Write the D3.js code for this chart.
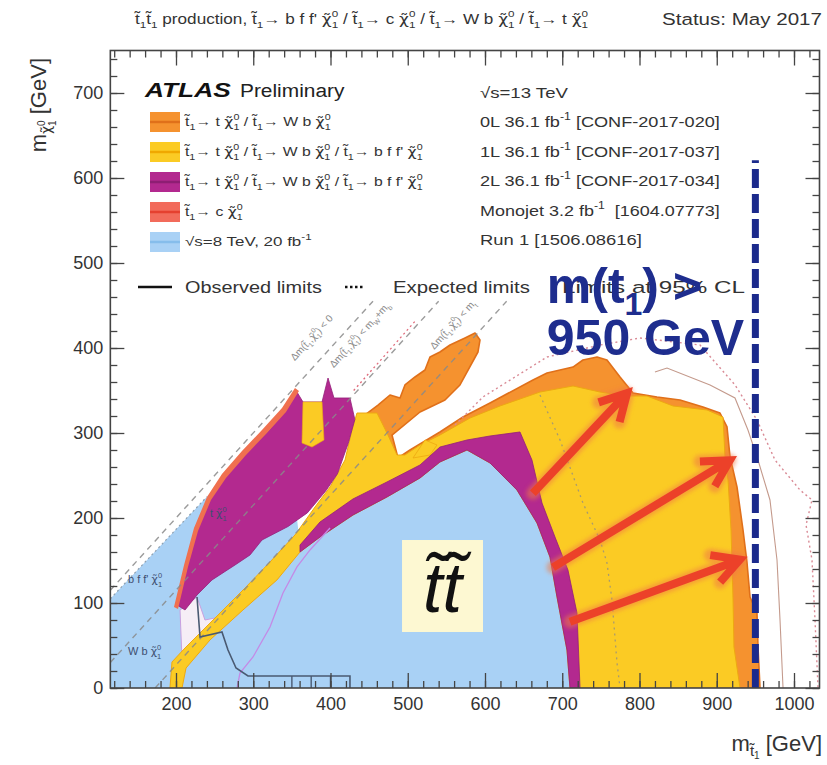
<!DOCTYPE html>
<html><head><meta charset="utf-8">
<script src="https://cdn.jsdelivr.net/npm/d3@7"></script>
<style>
body{margin:0;background:#fff}
svg{display:block}
text{font-family:"Liberation Sans",Arial,Helvetica,sans-serif;white-space:pre}
</style>
</head><body>
<svg id="c" width="827" height="765"></svg>
<script>
// ---------------- DATA ----------------
const xTickValues = [200,300,400,500,600,700,800,900,1000];
const yTickValues = [0,100,200,300,400,500,600,700];

const T1 = "t\u0303_{1}", CHI = "\u03C7\u0303_{1}^{0}";
const titleText = `${T1}${T1} production, ${T1}\u2192 b f f' ${CHI} / ${T1}\u2192 c ${CHI} / ${T1}\u2192 W b ${CHI} / ${T1}\u2192 t ${CHI}`;
const legendLabels = [
  `${T1}\u2192 t ${CHI} / ${T1}\u2192 W b ${CHI}`,
  `${T1}\u2192 t ${CHI} / ${T1}\u2192 W b ${CHI} / ${T1}\u2192 b f f' ${CHI}`,
  `${T1}\u2192 t ${CHI} / ${T1}\u2192 W b ${CHI} / ${T1}\u2192 b f f' ${CHI}`,
  `${T1}\u2192 c ${CHI}`,
  `\u221As=8 TeV, 20 fb^{-1}`
];
const legendRefs = [
  "\u221As=13 TeV",
  "0L 36.1 fb^{-1} [CONF-2017-020]",
  "1L 36.1 fb^{-1} [CONF-2017-037]",
  "2L 36.1 fb^{-1} [CONF-2017-034]",
  "Monojet 3.2 fb^{-1}  [1604.07773]",
  "Run 1 [1506.08616]"
];
const legendFill = ['#F5922F','#FBCB24','#B3298F','#F26B5B','#A9D1F5'];
const legendLine = ['#E0701A','#F0A800','#8E1E73','#E5402F','#86BDEB'];

// exclusion regions [m(stop), m(LSP)] in GeV
const run1Region = [[115,0],[115,105],[240,225],[283,266],[322,292],[348,268],[360.5,168.2],[386.4,195.3],[429.1,222.4],[473.1,242.4],[515.9,262.4],[541.7,283.5],[576.7,291.8],[606.5,296.5],[645.3,301.2],[660.8,268.2],[673.8,217.6],[690.6,177.6],[707.4,138.8],[719.1,88.2],[723,0]];
const lowGap = [[205.2,91.8],[227.2,107.1],[237.5,80],[250.5,82.4],[231.1,56.5],[218.1,38.8],[207.8,32.9]];
const zeroLRegion = [[956,0],[953.4,48.2],[952.1,88.2],[943.1,107.1],[939.2,147.1],[934,185.9],[926.2,236.5],[917.2,271.8],[913.3,307.1],[904.2,323.5],[882.2,330.6],[852.4,338.8],[822.7,342.4],[791.6,347.1],[774.8,365.9],[757.9,385.9],[745,389.4],[726.8,385.9],[713.9,377.6],[680.3,370.6],[662.1,362.4],[606.5,335.3],[571.5,318.8],[541.7,301.2],[502.9,280],[487.4,270.6],[479.6,297.6],[515.9,324.7],[548.2,338.8],[567.6,356.5],[590.9,395.3],[593.5,409.4],[587.1,417.6],[574.1,411.8],[554.7,403.5],[541.7,395.3],[528.8,389.4],[522.3,374.1],[509.4,365.9],[496.4,356.5],[490,341.2],[477,344.7],[461.5,332.9],[444.7,321.2],[435.6,291.8],[464.1,256.5],[593.5,291.8],[748.9,256.5],[813.6,0]];
const oneLRegion = [[192.2,0],[194.8,30.6],[211.7,47.1],[231.1,64.7],[257,88.2],[289.3,117.6],[321.7,148.2],[354,180],[379.9,212.9],[399.4,236.5],[418.8,268.2],[427.8,303.5],[434.3,323.5],[460.2,323.5],[474.4,297.6],[486.1,274.1],[496.4,274.1],[515.9,285.9],[541.7,297.6],[580.6,317.6],[619.4,331.8],[671.2,348.2],[713.9,355.3],[748.9,348.2],[783.8,343.5],[809.7,343.5],[843.4,331.8],[887.4,327.1],[908.1,318.8],[910.7,271.8],[914.6,244.7],[918.5,185.9],[921,107.1],[922.3,48.2],[930.1,0],[710,0],[706.1,44.7],[693.2,107.1],[684.1,154.1],[667.3,194.1],[641.4,232.9],[606.5,264.7],[576.7,280],[541.7,265.9],[515.9,247.1],[473.1,224.7],[429.1,203.5],[386.4,177.6],[360.5,160],[330.7,127.1],[286.7,91.8],[244,56.5],[213,23.5],[207.8,0]];
const oneLIsland = [[506.8,270.6],[522.3,291.8],[537.9,285.9],[528.8,274.1]];
const twoLBand = [[360.5,168.2],[386.4,195.3],[429.1,222.4],[473.1,242.4],[515.9,262.4],[541.7,283.5],[576.7,291.8],[606.5,296.5],[645.3,301.2],[660.8,268.2],[673.8,217.6],[690.6,177.6],[707.4,138.8],[719.1,88.2],[723,0],[710,0],[706.1,44.7],[693.2,107.1],[684.1,154.1],[667.3,194.1],[641.4,232.9],[606.5,264.7],[576.7,280],[541.7,265.9],[515.9,247.1],[473.1,224.7],[429.1,203.5],[386.4,177.6],[360.5,160]];
const twoLWedge = [[201.3,97.6],[214.2,144.7],[227.2,185.9],[244,221.2],[263.4,247.1],[289.3,274.1],[315.2,297.6],[341.1,324.7],[356.6,348.2],[364.4,336.5],[389,336.5],[396.8,364.7],[404.5,341.2],[425.2,341.2],[431.5,316],[423,288],[409,252],[394,232],[370,206],[345,190],[311.3,174.1],[295.8,156.5],[276.4,144.7],[246.6,127.1],[227.2,109.4],[211.7,91.8]];
const oneLStrip = [[363.1,288.2],[364.4,336.5],[389,336.5],[391.6,291.8],[376.1,283.5]];
const monojetStrip = [[197.4,95.3],[210.4,144.7],[223.3,188.2],[240.1,224.7],[259.5,251.8],[285.4,278.8],[311.3,303.5],[337.2,329.4],[354,352.9],[359.2,349.4],[342.4,324.7],[316.5,298.8],[290.6,274.1],[264.7,247.1],[245.3,221.2],[228.5,184.7],[215.5,142.4],[202.6,92.9]];

// contour lines
const diagDm0 = [[115,115],[455,455]];
const diagDmWb = [[115,30],[540,455]];
const diagDmT = [[173,0],[628,455]];
const diagLabelPos = [[376,411.8],[438.2,415.3],[558.6,427.1]];
const diagLabelText = ["\u0394m(t\u0303_{1},\u03C7\u0303_{1}^{0}) < 0","\u0394m(t\u0303_{1},\u03C7\u0303_{1}^{0}) < m_{W}+m_{b}","\u0394m(t\u0303_{1},\u03C7\u0303_{1}^{0}) < m_{t}"];
const pinkDiag = [[430,350],[510,432]];
const zeroLExpected = [[561.2,309.4],[597.4,342.4],[680.3,389.4],[748.9,403.5],[800.6,411.8],[878.3,403.5],[923.6,356.5],[952.1,315.3],[975.4,268.2],[1007.8,232.9],[1023.3,221.2],[1015.6,191.8],[1023.3,150.6],[1027.2,80],[1031.1,0]];
const thinObserved = [[820,371.8],[835.6,376.5],[891.3,356.5],[923.6,341.2],[940.4,303.5],[953.4,268.2],[968.9,221.2],[978,150.6],[981.9,80],[985.8,0]];
const oneLExpected = [[671.2,344.7],[697.1,291.8],[726.8,217.6],[748.9,174.1],[757.9,147.1],[764.4,103.5],[770.9,29.4],[774.8,0]];
const run1Edge = [[115,105],[240,225]];
const darkObserved = [[227.2,107.1],[231.1,60],[259.5,65.9],[267.3,44.7],[277.7,23.5],[293.2,14.1],[425.2,14.1],[425.2,0]];
const combBars = [350,375,400];
const lavenderLine = [[279,0],[282.8,17.6],[299.7,36.5],[321.7,71.8],[338.5,111.8],[356.6,142.4],[373.5,162.4],[399.4,188.2]];
const regionLabels = [{t:"b f f' \u03C7\u0303_{1}^{0}",p:[137.9,123.5]},{t:"W b \u03C7\u0303_{1}^{0}",p:[137.9,38.8]},{t:"t \u03C7\u0303_{1}^{0}",p:[244,201]}];

// annotations
const arrowTails = [[662,229],[688,142],[710,78]];
const arrowTips = [[784,347],[917,268],[930,151]];
const limitLine = [[950,0],[950,621]];
const limitText1Pos = [680,452.9];
const limitText2Pos = [680,391.8];
const boxCorners = [[492.6,174.1],[597.4,65.9]];
const boxTextPos = [545,90];

// ---------------- DRAW ----------------
const svg = d3.select('#c');
const x = d3.scaleLinear().domain([200,1000]).range([176,794]);
const y = d3.scaleLinear().domain([0,700]).range([688,93]);
const xLo = 115, xHi = 1033, yHi = 750;
const X0 = x(xLo), X1 = x(xHi), Y0 = y(0), Y1 = y(yHi);

const defs = svg.append('defs');
defs.append('clipPath').attr('id','plot').append('rect')
  .attr('x',X0).attr('y',Y1).attr('width',X1-X0).attr('height',Y0-Y1);
const glow = defs.append('filter').attr('id','glow').attr('x','-20%').attr('y','-20%').attr('width','140%').attr('height','140%');
glow.append('feGaussianBlur').attr('stdDeviation',2.2);

const CHI_T = "\u03C7\u0303";
function rich(parent, px, py, str, size, attrs){
  const t = parent.append('text').attr('x',px).attr('y',py).attr('font-size',size);
  for (const k in (attrs||{})) t.attr(k, attrs[k]);
  const parts = str.split(/(_\{[^}]*\}|\^\{[^}]*\}|\u03C7\u0303)/).filter(s=>s.length);
  let cur = 0, lastSub = null;
  parts.forEach(p=>{
    let type='n', txt=p;
    if (p.startsWith('_{')) {type='sub'; txt=p.slice(2,-1);}
    else if (p.startsWith('^{')) {type='sup'; txt=p.slice(2,-1);}
    const target = type==='sub' ? size*0.32 : type==='sup' ? -size*0.48 : 0;
    const ts = t.append('tspan').text(txt).attr('dy', target-cur);
    if (type!=='n') ts.attr('font-size', size*0.68);
    if (p===CHI_T) ts.attr('font-family','"DejaVu Sans",sans-serif');
    if (type==='sup' && lastSub!==null) ts.attr('dx', -lastSub);
    cur = target;
    lastSub = type==='sub' ? ts.node().getComputedTextLength() : null;
  });
  return t;
}
// explicit segments: [text, fontSize, baselineOffset, overlayPrevious, family]
function segs(parent, px, py, list, attrs){
  const t = parent.append('text').attr('x',px).attr('y',py);
  for (const k in (attrs||{})) t.attr(k, attrs[k]);
  let cur = 0, lastLen = 0;
  list.forEach(s=>{
    const ts = t.append('tspan').text(s[0]).attr('font-size',s[1]).attr('dy', s[2]-cur);
    if (s[3]) ts.attr('dx', -lastLen);
    if (s[4]) ts.attr('font-family', s[4]);
    cur = s[2];
    lastLen = ts.node().getComputedTextLength();
  });
  return t;
}
function fit(sel, target, ax){
  const w = sel.node().getBBox().width;
  sel.attr('transform',`translate(${ax},0) scale(${target/w},1) translate(${-ax},0)`);
}

const plot = svg.append('g').attr('clip-path','url(#plot)');
const line = d3.line().x(d=>x(d[0])).y(d=>y(d[1]));
function region(pts, fill, stroke, sw){
  plot.append('path').attr('d', line(pts)+'Z').attr('fill',fill)
    .attr('stroke',stroke||'none').attr('stroke-width',sw||0).attr('stroke-linejoin','round');
}
function poly(pts, stroke, sw, dash, op){
  plot.append('path').attr('d', line(pts)).attr('fill','none').attr('stroke',stroke)
    .attr('stroke-width',sw).attr('stroke-dasharray',dash||null).attr('opacity',op||1);
}

region(run1Region, '#A9D1F5');
region(lowGap, '#F6EEF6', '#C9A0E0', 1);
region(zeroLRegion, '#F5922F', '#E0701A', 1.6);
region(oneLRegion, '#FBCB24', '#EDA812', 1);
region(oneLIsland, '#FBCB24', '#EDA812', 0.8);
region(twoLBand, '#B3298F', '#93207A', 0.8);
region(twoLWedge, '#B3298F', '#93207A', 0.8);
region(oneLStrip, '#FBCB24', '#EDA812', 0.6);
region(monojetStrip, '#F0704F');

poly(run1Edge, '#8FA0B0', 1.2, '2,3');
poly(diagDm0, '#8a8a8a', 1.4, '6,5', 0.85);
poly(diagDmWb, '#8a8a8a', 1.4, '6,5', 0.85);
poly(diagDmT, '#8a8a8a', 1.4, '6,5', 0.85);
poly(pinkDiag, '#E06A7A', 1.3, '2,3');
poly(zeroLExpected, '#D98A95', 1.4, '2,3');
poly(thinObserved, '#C49A8C', 1.1);
poly(oneLExpected, '#A89A70', 1.3, '2,4');
poly(lavenderLine, '#C48AE6', 1.3);
poly(darkObserved, '#4A5A72', 1.6);
combBars.forEach(v=>poly([[v,0],[v,14.1]], '#4A5A72', 1.4));

diagLabelText.forEach((t,i)=>{
  const g = plot.append('g').attr('transform',`translate(${x(diagLabelPos[i][0])},${y(diagLabelPos[i][1])}) rotate(-47.7)`);
  rich(g, 0, 3, t, 10, {fill:'#8a8a8a','text-anchor':'middle'});
});
regionLabels.forEach(r=>{
  rich(plot, x(r.p[0]), y(r.p[1]), r.t, 11, {fill:'#3D4E70'});
});

// arrows
arrowTails.forEach((tl,i)=>{
  const sx=x(tl[0]), sy=y(tl[1]), tx=x(arrowTips[i][0]), ty=y(arrowTips[i][1]);
  const a = Math.atan2(ty-sy, tx-sx), L=30, h=0.5;
  const p1=[tx-L*Math.cos(a-h), ty-L*Math.sin(a-h)], p2=[tx-L*Math.cos(a+h), ty-L*Math.sin(a+h)];
  const d = `M${sx},${sy}L${tx},${ty}M${p1[0]},${p1[1]}L${tx},${ty}L${p2[0]},${p2[1]}`;
  svg.append('path').attr('d',d).attr('fill','none').attr('stroke','#F07A45').attr('stroke-width',13)
    .attr('stroke-linecap','round').attr('stroke-linejoin','round').attr('opacity',0.55).attr('filter','url(#glow)');
  svg.append('path').attr('d',d).attr('fill','none').attr('stroke','#EC4129').attr('stroke-width',8)
    .attr('stroke-linecap','butt').attr('stroke-linejoin','miter');
});

// legend
const lg = svg.append('g');
fit(lg.append('text').attr('x',145).attr('y',97).attr('font-size',21).attr('font-weight','bold').attr('font-style','italic').attr('fill','#111').text('ATLAS'), 87, 145);
fit(lg.append('text').attr('x',240).attr('y',97).attr('font-size',19).attr('fill','#222').text('Preliminary'), 105, 240);
legendLabels.forEach((t,i)=>{
  const cy = 122 + i*30;
  lg.append('rect').attr('x',150).attr('y',cy-10).attr('width',30).attr('height',20).attr('fill',legendFill[i]);
  lg.append('line').attr('x1',150).attr('x2',180).attr('y1',cy).attr('y2',cy).attr('stroke',legendLine[i]).attr('stroke-width',2.5);
  const tt = rich(lg, 185, cy+4, t, 12.5, {fill:'#333'});
  fit(tt, [148,240,240,60,127][i], 185);
});
legendRefs.forEach((t,i)=>{
  const tt = rich(lg, 480, 98 + i*29.5, t, 15, {fill:'#333'});
  fit(tt, [88,240,240,240,240,162][i], 480);
});
lg.append('line').attr('x1',138).attr('x2',172).attr('y1',287).attr('y2',287).attr('stroke','#111').attr('stroke-width',2.5);
fit(lg.append('text').attr('x',185).attr('y',293).attr('font-size',17).attr('fill','#333').text('Observed limits'),137,185);
lg.append('line').attr('x1',345).attr('x2',364).attr('y1',287).attr('y2',287).attr('stroke','#111').attr('stroke-width',2.5).attr('stroke-dasharray','2.5,2.5');
fit(lg.append('text').attr('x',393).attr('y',293).attr('font-size',17).attr('fill','#333').text('Expected limits'),137,393);
fit(lg.append('text').attr('x',562).attr('y',293).attr('font-size',17).attr('fill','#333').text('Limits at 95% CL'),183,562);

// limit line
svg.append('path').attr('d', line(limitLine)).attr('stroke','#1B2A8C').attr('stroke-width',7).attr('stroke-dasharray','19,6').attr('fill','none');

// big navy text
const nt = svg.append('text').attr('x',x(limitText1Pos[0])).attr('y',y(limitText1Pos[1])).attr('font-size',50).attr('font-weight','bold').attr('fill','#1E2D8E');
nt.append('tspan').text('m(t');
nt.append('tspan').text('1').attr('font-size',32).attr('dy',12);
nt.append('tspan').text(') >').attr('dy',-12);
svg.append('text').attr('x',x(limitText2Pos[0])).attr('y',y(limitText2Pos[1])).attr('font-size',50).attr('font-weight','bold').attr('fill','#1E2D8E').text('950 GeV');

// stop pair box
svg.append('rect').attr('x',x(boxCorners[0][0])).attr('y',y(boxCorners[0][1]))
  .attr('width',x(boxCorners[1][0])-x(boxCorners[0][0])).attr('height',y(boxCorners[1][1])-y(boxCorners[0][1]))
  .attr('fill','#FDF8D2');
svg.append('text').attr('x',x(boxTextPos[0])).attr('y',y(boxTextPos[1])).attr('text-anchor','middle')
  .attr('font-family','"DejaVu Serif","Liberation Serif",serif').attr('font-style','italic').attr('font-size',70).attr('fill','#111')
  .text('t\u0303t\u0303');

// axes
const axCol = '#444';
function styleAxis(g){ g.selectAll('.domain').remove(); g.selectAll('line').attr('stroke',axCol).attr('stroke-width',1.3); g.selectAll('text').attr('fill','#333').attr('font-size',18).attr('font-family','"Liberation Sans",Arial,sans-serif'); }
const xMinor = d3.range(120, 1034, 20), yMinor = d3.range(0, 751, 20);
svg.append('g').attr('transform',`translate(0,${Y0})`).call(d3.axisBottom(x).tickValues(xTickValues).tickSize(-15).tickPadding(9).tickFormat(d3.format('d'))).call(styleAxis);
svg.append('g').attr('transform',`translate(0,${Y0})`).call(d3.axisBottom(x).tickValues(xMinor).tickSize(-7).tickFormat('')).call(styleAxis);
svg.append('g').attr('transform',`translate(0,${Y1})`).call(d3.axisTop(x).tickValues(xTickValues).tickSize(-15).tickFormat('')).call(styleAxis);
svg.append('g').attr('transform',`translate(0,${Y1})`).call(d3.axisTop(x).tickValues(xMinor).tickSize(-7).tickFormat('')).call(styleAxis);
svg.append('g').attr('transform',`translate(${X0},0)`).call(d3.axisLeft(y).tickValues(yTickValues).tickSize(-14).tickPadding(7).tickFormat(d3.format('d'))).call(styleAxis);
svg.append('g').attr('transform',`translate(${X0},0)`).call(d3.axisLeft(y).tickValues(yMinor).tickSize(-7).tickFormat('')).call(styleAxis);
svg.append('g').attr('transform',`translate(${X1},0)`).call(d3.axisRight(y).tickValues(yTickValues).tickSize(-14).tickFormat('')).call(styleAxis);
svg.append('g').attr('transform',`translate(${X1},0)`).call(d3.axisRight(y).tickValues(yMinor).tickSize(-7).tickFormat('')).call(styleAxis);
svg.append('rect').attr('x',X0).attr('y',Y1).attr('width',X1-X0).attr('height',Y0-Y1).attr('fill','none').attr('stroke',axCol).attr('stroke-width',1.6);

// axis titles
segs(svg, 822, 751, [["m",22,0],["t\u0303",15,5],["1",10,8],[" [GeV]",22,0]], {fill:'#333','text-anchor':'end'});
const yt = svg.append('g').attr('transform','translate(46,58) rotate(-90)');
segs(yt, 0, 0, [["m",22,0],["\u03C7\u0303",14,5,false,'"DejaVu Sans",sans-serif'],["1",10,10],["0",10,-1,true],[" [GeV]",22,0]], {fill:'#333','text-anchor':'end'});

// title
const tt = rich(svg, 135, 24, titleText, 14, {fill:'#333'});
fit(tt, 455, 135);
const st = svg.append('text').attr('x',822).attr('y',25).attr('text-anchor','end').attr('font-size',17).attr('fill','#333').text('Status: May 2017');
fit(st, 160, 822);
</script>
</body></html>
